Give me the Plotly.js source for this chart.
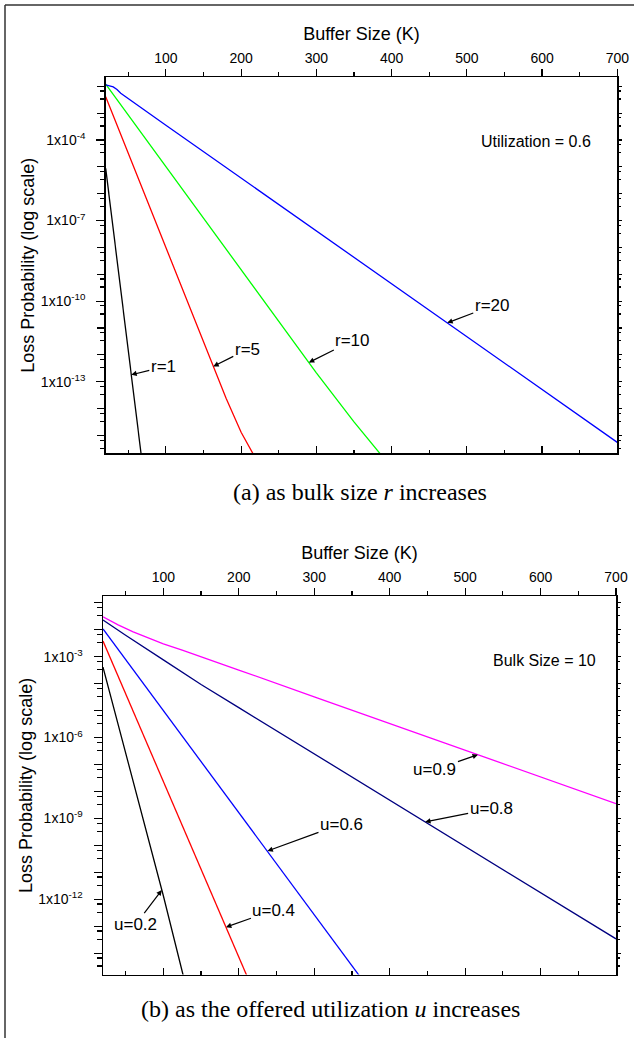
<!DOCTYPE html>
<html><head><meta charset="utf-8">
<script src="https://cdn.plot.ly/plotly-3.0.1.min.js"></script>
<style>html,body{margin:0;padding:0;background:#fff;}#chart{width:634px;height:1038px;}</style>
</head><body><div id="chart"></div>
<script>
// ---------- Panel (a): Utilization = 0.6, bulk size r ----------
const bufR1  = [20, 30, 40, 50, 60, 70];
const lossR1 = [8.7e-6, 4.8e-8, 2.6e-10, 1.45e-12, 7.9e-15, 4.4e-17];
const bufR5  = [20, 50, 100, 150, 180, 200, 215, 230];
const lossR5 = [4.1e-3, 3.2e-5, 9.5e-9, 3.0e-12, 2.4e-14, 1.3e-15, 2.1e-16, 4.0e-17];
const bufR10  = [20, 100, 200, 300, 350, 385, 400];
const lossR10 = [1.2e-2, 1.02e-5, 1.48e-9, 2.14e-13, 3.16e-15, 2.14e-16, 6.3e-17];
const bufR20  = [20, 25, 30, 35, 40, 100, 200, 300, 400, 500, 600, 700];
const lossR20 = [1.12e-2, 1.05e-2, 9.5e-3, 7.6e-3, 5.5e-3, 3.55e-4, 3.8e-6, 4.1e-8, 4.4e-10, 4.8e-12, 5.1e-14, 5.5e-16];

// ---------- Panel (b): Bulk Size = 10, utilization u ----------
const bufU2  = [20, 50, 80, 100, 126, 140];
const lossU2 = [4.1e-4, 2.7e-7, 1.74e-10, 1.35e-12, 1.62e-15, 5.0e-17];
const bufU4  = [20, 100, 150, 200, 225];
const lossU4 = [3.8e-3, 2.34e-8, 1.32e-11, 7.2e-15, 1.7e-16];
const bufU6  = [20, 100, 200, 300, 380];
const lossU6 = [1.07e-2, 1.02e-5, 1.7e-9, 2.75e-13, 2.5e-16];
const bufU8  = [20, 50, 100, 150, 200, 300, 400, 500, 600, 700];
const lossU8 = [2.3e-2, 6.2e-3, 7.6e-4, 9.3e-5, 1.29e-5, 2.45e-7, 4.8e-9, 9.1e-11, 1.78e-12, 3.4e-14];
const bufU9  = [20, 40, 60, 80, 100, 125, 150, 200, 300, 400, 500, 600, 700];
const lossU9 = [3.0e-2, 1.51e-2, 8.3e-3, 4.9e-3, 3.0e-3, 1.74e-3, 1.0e-3, 3.2e-4, 3.24e-5, 3.3e-6, 3.4e-7, 3.5e-8, 3.55e-9];

// ---------- tick labels ----------
const xTickVals = [100, 200, 300, 400, 500, 600, 700];
const xMinorVals = [50, 150, 250, 350, 450, 550, 650];
const yLabelExpA = [-4, -7, -10, -13];
const yLabelExpB = [-3, -6, -9, -12];
const labelsA = ['r=1', 'r=5', 'r=10', 'r=20'];
const labelsB = ['u=0.2', 'u=0.4', 'u=0.6', 'u=0.8', 'u=0.9'];

const FONT = 'Liberation Sans, Arial, sans-serif';
const SERIF = 'Liberation Serif, Times New Roman, serif';

function logAt(xs, ys, x) {
  for (let i = 0; i < xs.length - 1; i++) {
    if (x >= xs[i] && x <= xs[i + 1]) {
      const t = (x - xs[i]) / (xs[i + 1] - xs[i]);
      return Math.log10(ys[i]) * (1 - t) + Math.log10(ys[i + 1]) * t;
    }
  }
  return Math.log10(ys[ys.length - 1]);
}

function decadeTicks(kmin, kmax) {
  const vals = [], minor = [];
  for (let k = kmin; k <= kmax; k++) {
    vals.push(Math.pow(10, -k));
    minor.push(Math.pow(10, -k) * 2 / 3, Math.pow(10, -k) / 3);
  }
  return {vals, minor};
}
const labelTicks = exps => ({vals: exps.map(e => Math.pow(10, e)), text: exps.map(e => '1x10<sup>' + e + '</sup>')});
const tA = decadeTicks(1, 16), tB = decadeTicks(0, 15);
const lA = labelTicks(yLabelExpA), lB = labelTicks(yLabelExpB);

const W = 634, H = 1038;
const px = v => v / W, py = v => 1 - v / H;
const domAx = [px(105.7), px(617.3)], domAy = [py(453.3), py(77.3)];
const domBx = [px(103), px(616)], domBy = [py(974.5), py(596.3)];
const rangeA = [-15.667, -1.667], rangeB = [-14.79, -0.76];

const base = {tickwidth: 1.2, tickcolor: '#000', linecolor: '#000', linewidth: 1.5, showgrid: false, zeroline: false};

function topX(domain, anchor) {
  return Object.assign({}, base, {domain, anchor, side: 'top', range: [20, 700], tickmode: 'array', tickvals: xTickVals,
    ticks: 'outside', ticklen: 7, showline: true, tickfont: {size: 14, family: FONT, color: '#000'},
    minor: {tickmode: 'array', tickvals: xMinorVals, ticks: 'outside', ticklen: 4, tickwidth: 1.2, tickcolor: '#000', showgrid: false},
    title: {text: 'Buffer Size (K)', font: {size: 18, family: FONT, color: '#000'}, standoff: 5}});
}
function botX(over, anchor) {
  return Object.assign({}, base, {overlaying: over, anchor, side: 'bottom', range: [20, 700], tickmode: 'array', tickvals: xTickVals,
    ticks: 'inside', ticklen: 7, showline: true, showticklabels: false,
    minor: {tickmode: 'array', tickvals: xMinorVals, ticks: 'inside', ticklen: 3.5, tickwidth: 1.2, tickcolor: '#000', showgrid: false}});
}
function leftY(domain, anchor, range, l) {
  return Object.assign({}, base, {domain, anchor, type: 'log', range, tickmode: 'array', tickvals: l.vals, ticktext: l.text,
    ticks: 'outside', ticklen: 8, showline: true, ticklabelstandoff: 8,
    tickfont: {size: 14, family: FONT, color: '#000'},
    title: {text: 'Loss Probability (log scale)', font: {size: 18, family: FONT, color: '#000'}, standoff: 1}});
}
function leftTicksY(over, anchor, range, t) {
  return Object.assign({}, base, {overlaying: over, anchor, side: 'left', type: 'log', range, tickmode: 'array', tickvals: t.vals,
    ticks: 'outside', ticklen: 8, showline: false, showticklabels: false,
    minor: {tickmode: 'array', tickvals: t.minor, ticks: 'outside', ticklen: 5, tickwidth: 1.2, tickcolor: '#000', showgrid: false}});
}
function rightY(over, anchor, range, t) {
  return Object.assign({}, base, {overlaying: over, anchor, side: 'right', type: 'log', range, tickmode: 'array', tickvals: t.vals,
    ticks: 'outside', ticklen: 3, showline: true, showticklabels: false,
    minor: {tickmode: 'array', tickvals: t.minor, ticks: 'outside', ticklen: 2, tickwidth: 1.2, tickcolor: '#000', showgrid: false}});
}

const line = (x, y, color, xa, ya) => ({x, y, type: 'scatter', mode: 'lines', xaxis: xa, yaxis: ya,
  line: {color, width: 1.3}, hoverinfo: 'skip'});
const holder = (xa, ya) => ({x: [], y: [], type: 'scatter', mode: 'lines', xaxis: xa, yaxis: ya, hoverinfo: 'skip'});

const traces = [
  line(bufR1, lossR1, '#000000', 'x', 'y'),
  line(bufR5, lossR5, '#ff0000', 'x', 'y'),
  line(bufR10, lossR10, '#00ff00', 'x', 'y'),
  line(bufR20, lossR20, '#0000ff', 'x', 'y'),
  line(bufU2, lossU2, '#000000', 'x2', 'y2'),
  line(bufU4, lossU4, '#ff0000', 'x2', 'y2'),
  line(bufU6, lossU6, '#0000ff', 'x2', 'y2'),
  line(bufU8, lossU8, '#000080', 'x2', 'y2'),
  line(bufU9, lossU9, '#ff00ff', 'x2', 'y2'),
  holder('x3', 'y'), holder('x', 'y3'), holder('x', 'y5'),
  holder('x4', 'y2'), holder('x2', 'y4'), holder('x2', 'y6')
];

function arrowLabel(text, xs, ys, tipX, ax, ay, xr, yr) {
  return {x: tipX, y: logAt(xs, ys, tipX), xref: xr, yref: yr, text, showarrow: true,
    arrowhead: 2, arrowsize: 0.9, arrowwidth: 1.2, arrowcolor: '#000', ax, ay, standoff: 0,
    font: {size: 17, family: FONT, color: '#000'}};
}

const annotations = [
  arrowLabel(labelsA[0], bufR1, lossR1, 54, 32, -8, 'x', 'y'),
  arrowLabel(labelsA[1], bufR5, lossR5, 163, 34, -17, 'x', 'y'),
  arrowLabel(labelsA[2], bufR10, lossR10, 290, 44, -22, 'x', 'y'),
  arrowLabel(labelsA[3], bufR20, lossR20, 474, 45, -17, 'x', 'y'),
  arrowLabel(labelsB[0], bufU2, lossU2, 98, -26, 34, 'x2', 'y2'),
  arrowLabel(labelsB[1], bufU4, lossU4, 183, 48, -17, 'x2', 'y2'),
  arrowLabel(labelsB[2], bufU6, lossU6, 238, 74, -27, 'x2', 'y2'),
  arrowLabel(labelsB[3], bufU8, lossU8, 447, 66, -13, 'x2', 'y2'),
  arrowLabel(labelsB[4], bufU9, lossU9, 517, -43, 15, 'x2', 'y2'),
  {xref: 'paper', yref: 'paper', x: px(536), y: py(141), text: 'Utilization = 0.6', showarrow: false,
    font: {size: 16, family: FONT, color: '#000'}, xanchor: 'center', yanchor: 'middle'},
  {xref: 'paper', yref: 'paper', x: px(544), y: py(660), text: 'Bulk Size = 10', showarrow: false,
    font: {size: 16, family: FONT, color: '#000'}, xanchor: 'center', yanchor: 'middle'},
  {xref: 'paper', yref: 'paper', x: px(360), y: py(492), text: '(a) as bulk size <i>r</i> increases', showarrow: false,
    font: {size: 24, family: SERIF, color: '#000'}, xanchor: 'center', yanchor: 'middle'},
  {xref: 'paper', yref: 'paper', x: px(330), y: py(1009), text: '(b) as the offered utilization <i>u</i> increases', showarrow: false,
    font: {size: 24, family: SERIF, color: '#000'}, xanchor: 'center', yanchor: 'middle'}
];

const layout = {
  width: W, height: H, margin: {l: 0, r: 0, t: 0, b: 0}, showlegend: false,
  paper_bgcolor: '#fff', plot_bgcolor: '#fff', font: {family: FONT, color: '#000'},
  xaxis: topX(domAx, 'y'),
  yaxis: leftY(domAy, 'x', rangeA, lA),
  xaxis3: botX('x', 'y'),
  yaxis3: rightY('y', 'x', rangeA, tA),
  yaxis5: leftTicksY('y', 'x', rangeA, tA),
  xaxis2: topX(domBx, 'y2'),
  yaxis2: leftY(domBy, 'x2', rangeB, lB),
  xaxis4: botX('x2', 'y2'),
  yaxis4: rightY('y2', 'x2', rangeB, tB),
  yaxis6: leftTicksY('y2', 'x2', rangeB, tB),
  annotations,
  shapes: [
    {type: 'line', xref: 'paper', yref: 'paper', x0: px(5), x1: px(5), y0: 0, y1: py(5), line: {color: '#333', width: 1.5}},
    {type: 'line', xref: 'paper', yref: 'paper', x0: px(5), x1: 1, y0: py(5), y1: py(5), line: {color: '#333', width: 1.5}}
  ]
};

Plotly.newPlot('chart', traces, layout, {staticPlot: true, displayModeBar: false});
</script></body></html>
